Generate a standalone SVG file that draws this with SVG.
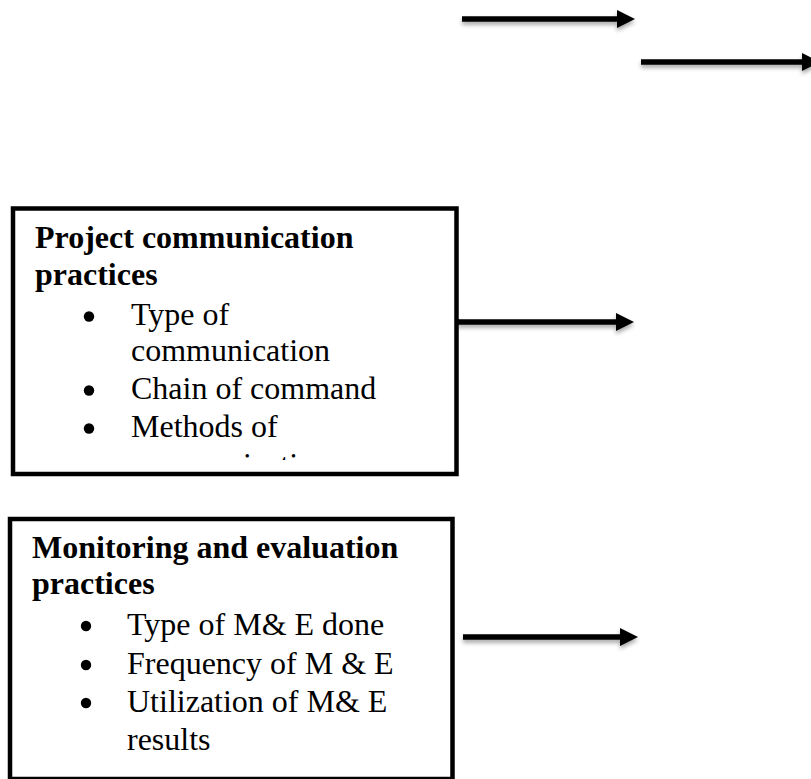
<svg xmlns="http://www.w3.org/2000/svg" width="811" height="779" viewBox="0 0 811 779">
<style>
.box{fill:#fff;stroke:#000;stroke-width:4.5}
.hd{font-family:"Liberation Serif","Times New Roman",serif;font-size:32px;font-weight:bold;fill:#000}
.it{font-family:"Liberation Serif","Times New Roman",serif;font-size:32px;fill:#000}
.arr{stroke:#000;stroke-width:5.5;fill:none}
</style>
<defs>
<marker id="head" viewBox="0 0 18 18" refX="0" refY="9" markerWidth="18" markerHeight="18" markerUnits="userSpaceOnUse" orient="auto">
<path d="M0,0 L18,9 L0,18 z" fill="#000"/>
</marker>
<filter id="sh" x="-10%" y="-100%" width="120%" height="400%">
<feDropShadow dx="0" dy="3" stdDeviation="2" flood-color="#000" flood-opacity="0.35"/>
</filter>
<clipPath id="c1"><rect x="13" y="211" width="442" height="249"/></clipPath>
</defs>
<g id="connectors" filter="url(#sh)">
<line class="arr" x1="462" y1="19" x2="617" y2="19" marker-end="url(#head)"/>
<line class="arr" x1="641" y1="62" x2="802" y2="62" marker-end="url(#head)"/>
<line class="arr" x1="457" y1="322" x2="616" y2="322" marker-end="url(#head)"/>
<line class="arr" x1="463" y1="637" x2="620" y2="637" marker-end="url(#head)"/>
</g>
<g id="node-communication">
<rect class="box" x="13" y="208.5" width="443.5" height="265.5"/>
<g clip-path="url(#c1)">
<text class="hd" x="35" y="248">Project communication</text>
<text class="hd" x="35" y="285">practices</text>
<circle cx="89" cy="316.5" r="5.2"/>
<text class="it" x="131" y="325">Type of</text>
<text class="it" x="131" y="361">communication</text>
<circle cx="89" cy="390.5" r="5.2"/>
<text class="it" x="131" y="399">Chain of command</text>
<circle cx="89" cy="428.5" r="5.2"/>
<text class="it" x="131" y="437">Methods of</text>
<text class="it" x="131" y="475">communication</text>
</g>
</g>
<g id="node-monitoring">
<rect class="box" x="10" y="519" width="442.5" height="260"/>
<text class="hd" x="32" y="558">Monitoring and evaluation</text>
<text class="hd" x="32" y="594">practices</text>
<circle cx="86" cy="626" r="5.2"/>
<text class="it" x="127" y="635">Type of M&amp; E done</text>
<circle cx="86" cy="665" r="5.2"/>
<text class="it" x="127" y="674">Frequency of M &amp; E</text>
<circle cx="86" cy="703" r="5.2"/>
<text class="it" x="127" y="712">Utilization of M&amp; E</text>
<text class="it" x="127" y="750">results</text>
</g>
</svg>
